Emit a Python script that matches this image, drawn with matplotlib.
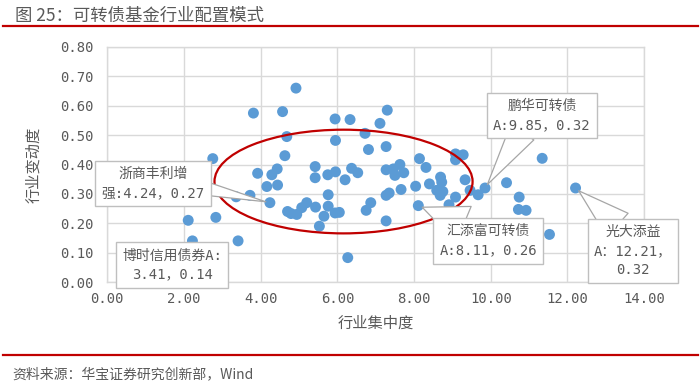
import matplotlib
matplotlib.use("Agg")
import matplotlib.pyplot as plt
from matplotlib.patches import Ellipse
from matplotlib.lines import Line2D

plt.rcParams['font.family'] = ['Noto Sans CJK SC', 'DejaVu Sans']

# ---- data ----
concentration = [
    2.11, 2.83, 2.22, 3.41, 2.75, 3.81, 4.57, 3.92, 4.43, 4.29, 4.44, 4.16, 3.72, 3.36, 4.24,
    4.68, 4.63, 4.92, 4.70, 4.79, 4.94, 5.07, 5.20, 5.43,
    5.42, 5.42, 5.75, 5.95, 6.20, 6.37, 6.53,
    5.94, 6.33, 5.95, 6.72, 6.81, 7.27, 7.30, 7.11,
    5.76, 5.76, 5.65, 5.53, 5.94, 6.05, 6.27, 6.75, 6.87,
    7.27, 7.46, 7.63, 7.50, 7.73, 7.66, 7.27, 7.35, 7.27,
    8.04, 8.14, 8.11, 8.31, 8.40, 8.69, 8.72, 8.59, 8.68, 8.75,
    9.08, 9.28, 9.08, 9.33, 9.08, 8.91, 9.46, 9.67, 9.85,
    10.41, 11.34, 10.74, 10.72, 10.92, 11.53, 12.21,
]
volatility = [
    0.21, 0.22, 0.14, 0.14, 0.42, 0.575, 0.58, 0.37, 0.385, 0.365, 0.33, 0.325, 0.295, 0.29, 0.27,
    0.495, 0.43, 0.66, 0.24, 0.233, 0.23, 0.253, 0.27, 0.255,
    0.393, 0.355, 0.365, 0.375, 0.348, 0.387, 0.372,
    0.555, 0.553, 0.482, 0.506, 0.451, 0.461, 0.585, 0.54,
    0.297, 0.258, 0.224, 0.19, 0.235, 0.237, 0.083, 0.244, 0.27,
    0.382, 0.385, 0.40, 0.363, 0.372, 0.315, 0.295, 0.303, 0.208,
    0.326, 0.42, 0.26, 0.39, 0.334, 0.357, 0.34, 0.312, 0.295, 0.308,
    0.436, 0.433, 0.416, 0.348, 0.289, 0.263, 0.312, 0.297, 0.32,
    0.338, 0.421, 0.289, 0.247, 0.244, 0.162, 0.32,
]

# labelled funds: (label text, x, y)
callout_names = ["浙商丰利增\n强:4.24，0.27", "博时信用债券A:\n3.41，0.14",
                 "鹏华可转债\nA:9.85，0.32", "汇添富可转债\nA:8.11，0.26",
                 "光大添益\nA：12.21，\n0.32"]
callout_x = [4.24, 3.41, 9.85, 8.11, 12.21]
callout_y = [0.27, 0.14, 0.32, 0.26, 0.32]

x_ticks = [0, 2, 4, 6, 8, 10, 12, 14]
y_ticks = [0.0, 0.1, 0.2, 0.3, 0.4, 0.5, 0.6, 0.7, 0.8]

title = "图 25：可转债基金行业配置模式"
source = "资料来源：华宝证券研究创新部，Wind"
x_label = "行业集中度"
y_label = "行业变动度"

grey_text = '#595959'
grid_c = '#D9D9D9'
blue = '#5B9BD5'
red = '#C00000'

fig = plt.figure(figsize=(7.0, 3.88), dpi=100)
ax = fig.add_axes([107.3 / 700, 1 - 282 / 388, 536.9 / 700, 235 / 388])

ax.scatter(concentration, volatility, s=62, color=blue, edgecolors='none', zorder=3)

ax.set_xlim(0, 14)
ax.set_ylim(0, 0.8)
ax.set_xticks(x_ticks)
ax.set_yticks(y_ticks)
ax.set_xticklabels([f"{v:.2f}" for v in x_ticks])
ax.set_yticklabels([f"{v:.2f}" for v in y_ticks])
for lab in ax.get_xticklabels() + ax.get_yticklabels():
    lab.set_family(['DejaVu Sans Mono'])
    lab.set_fontsize(10)
    lab.set_color(grey_text)
ax.tick_params(axis='both', length=0)
ax.tick_params(axis='x', pad=7)
ax.tick_params(axis='y', pad=10)
ax.grid(True, color=grid_c, linewidth=1.0)
ax.set_axisbelow(True)
for sp in ax.spines.values():
    sp.set_color(grid_c)
    sp.set_linewidth(1.0)

ax.set_xlabel(x_label, fontsize=11, color=grey_text)
ax.xaxis.set_label_coords(0.5, -0.14)
ax.set_ylabel(y_label, fontsize=11, color=grey_text)
ax.yaxis.set_label_coords(-0.122, 0.5)

# highlight ellipse
ax.add_patch(Ellipse((6.16, 0.342), 6.73, 0.353, fill=False, edgecolor=red,
                     linewidth=1.6, zorder=4))

# callouts
text_pos = [(1.19, 0.336), (1.69, 0.058), (11.33, 0.566), (9.93, 0.14), (13.71, 0.105)]
relpos = [(1.0, 0.35), None, (0.3, 0.0), (0.25, 1.0), (0.3, 1.0)]
tails = [1.0, 0, 2.0, 2.8, 2.3]
for name, px, py, tp, rp, tw in zip(callout_names, callout_x, callout_y, text_pos, relpos, tails):
    kw = dict(xy=(px, py), xytext=tp, textcoords='data', ha='center', va='center',
              fontsize=10, color=grey_text, family=['DejaVu Sans Mono', 'Noto Sans CJK SC'],
              linespacing=1.45, annotation_clip=False, zorder=6,
              bbox=dict(boxstyle='square,pad=0.45', fc='white', ec='#BFBFBF', lw=1.0))
    if rp is not None:
        kw['arrowprops'] = dict(arrowstyle=f'wedge,tail_width={tw}', fc='white',
                                ec='#A6A6A6', lw=0.9, relpos=rp, patchA=None,
                                shrinkA=0, shrinkB=3)
    ax.annotate(name, **kw)

# title and rules
fig.text(15 / 700, 1 - 16 / 388, title, fontsize=12.5, color=grey_text, va='center', ha='left')
fig.add_artist(Line2D([3 / 700, 698 / 700], [1 - 26 / 388, 1 - 26 / 388],
                      transform=fig.transFigure, color=red, linewidth=1.6))
fig.add_artist(Line2D([3 / 700, 698 / 700], [1 - 355 / 388, 1 - 355 / 388],
                      transform=fig.transFigure, color=red, linewidth=1.6))
fig.text(12 / 700, 1 - 374 / 388, source, fontsize=10, color=grey_text, va='center', ha='left')

fig.savefig("out.png", dpi=100)
